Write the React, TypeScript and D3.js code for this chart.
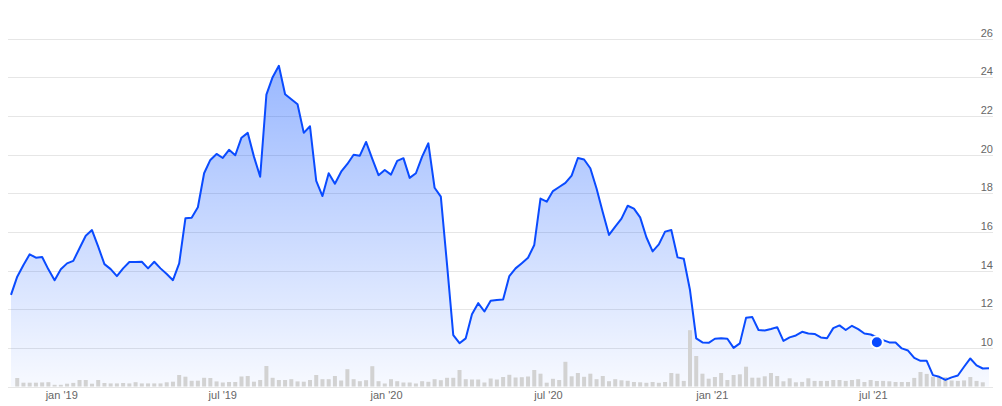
import React from "react";
import * as d3 from "d3";

// weekly closing prices, starting the week of 5 Nov 2018
const startDate = new Date(2018, 10, 5);
const prices: number[] = [
  12.74, 13.68, 14.28, 14.84, 14.66, 14.70, 14.06, 13.50, 14.06, 14.37,
  14.50, 15.15, 15.80, 16.09, 15.23, 14.33, 14.07, 13.71, 14.11, 14.44,
  14.44, 14.45, 14.11, 14.45, 14.11, 13.82, 13.50, 14.37, 16.70, 16.73,
  17.27, 19.03, 19.72, 20.03, 19.82, 20.24, 19.96, 20.87, 21.12, 19.89,
  18.85, 23.10, 24.00, 24.59, 23.12, 22.86, 22.60, 21.12, 21.46, 18.63,
  17.85, 19.03, 18.49, 19.11, 19.51, 19.99, 19.94, 20.65, 19.77, 18.93,
  19.20, 18.96, 19.67, 19.81, 18.79, 19.03, 19.89, 20.58, 18.28, 17.82,
  14.30, 10.66, 10.24, 10.49, 11.74, 12.31, 11.88, 12.43, 12.48, 12.50,
  13.71, 14.11, 14.38, 14.66, 15.32, 17.72, 17.56, 18.11, 18.32, 18.53,
  18.91, 19.82, 19.74, 19.29, 18.24, 17.01, 15.84, 16.27, 16.68, 17.35,
  17.20, 16.75, 15.72, 14.99, 15.35, 16.01, 16.09, 14.68, 14.61, 12.99,
  10.49, 10.28, 10.26, 10.47, 10.49, 10.47, 10.00, 10.23, 11.55, 11.59,
  10.92, 10.90, 10.97, 11.07, 10.36, 10.54, 10.64, 10.83, 10.74, 10.72,
  10.54, 10.50, 11.02, 11.16, 10.92, 11.14, 10.97, 10.74, 10.69, 10.55,
  10.40, 10.28, 10.28, 9.97, 9.86, 9.48, 9.33, 9.33, 8.59, 8.50,
  8.34, 8.47, 8.57, 9.02, 9.45, 9.09, 8.93, 8.95,
];

// weekly volume (millions of shares)
const volumes: number[] = [
  0.00, 0.85, 0.38, 0.38, 0.38, 0.41, 0.43, 0.17, 0.17, 0.28,
  0.36, 0.65, 0.65, 0.28, 0.65, 0.35, 0.31, 0.31, 0.35, 0.31,
  0.43, 0.31, 0.31, 0.31, 0.31, 0.42, 0.48, 1.15, 0.98, 0.57,
  0.58, 0.87, 0.85, 0.51, 0.40, 0.45, 0.45, 1.00, 1.05, 0.48,
  0.65, 2.05, 0.87, 0.65, 0.65, 0.73, 0.51, 0.48, 0.65, 1.15,
  0.73, 0.73, 1.05, 0.60, 1.73, 0.73, 0.53, 0.63, 2.03, 0.53,
  0.30, 0.73, 0.53, 0.40, 0.40, 0.30, 0.53, 0.47, 0.73, 0.63,
  0.87, 0.87, 1.65, 0.73, 0.70, 0.70, 0.40, 0.80, 0.70, 0.95,
  1.17, 0.90, 0.93, 1.00, 1.65, 1.28, 0.38, 0.77, 0.65, 2.47,
  1.02, 1.35, 0.97, 1.28, 0.73, 1.05, 0.53, 0.73, 0.62, 0.57,
  0.45, 0.42, 0.37, 0.45, 0.37, 0.45, 1.35, 1.28, 0.56, 5.63,
  3.05, 1.28, 0.78, 0.95, 1.35, 0.65, 1.15, 1.22, 1.98, 0.88,
  0.88, 1.02, 1.35, 1.05, 0.52, 0.82, 0.42, 0.46, 0.82, 0.56,
  0.56, 0.56, 0.65, 0.65, 0.56, 0.65, 0.73, 0.45, 0.65, 0.55,
  0.56, 0.52, 0.45, 0.45, 0.45, 0.86, 1.45, 1.26, 0.97, 0.98,
  0.93, 0.60, 0.56, 0.61, 0.95, 0.56, 0.42, 0.00,
];

// event marker
const markerDate = new Date(2021, 6, 5);
const markerValue = 10.29;

const yTicks: number[] = [10, 12, 14, 16, 18, 20, 22, 24, 26];
const yGrid: number[] = [8, 10, 12, 14, 16, 18, 20, 22, 24, 26];

const W = 1002;
const H = 406;
const BLUE = "#0a4bff";

export default function App() {
  const dates = prices.map((_, i) => d3.timeDay.offset(startDate, i * 7));
  const data = prices.map((p, i) => ({ date: dates[i], price: p, vol: volumes[i] }));

  const x = d3
    .scaleTime()
    .domain([dates[0], dates[dates.length - 1]])
    .range([11, 989]);
  const y = d3.scaleLinear().domain([8, 26]).range([386.5, 38.5]);
  const vScale = d3
    .scaleLinear()
    .domain([0, d3.max(volumes) as number])
    .range([0, 56.3]);

  const area = d3
    .area<any>()
    .x((d) => x(d.date))
    .y0(y(8))
    .y1((d) => y(d.price));
  const line = d3
    .line<any>()
    .x((d) => x(d.date))
    .y((d) => y(d.price));

  const xTicks = x.ticks(d3.timeMonth.every(6) as any);
  const fmt = d3.timeFormat("%b '%y");
  const topY = y(d3.max(prices) as number);
  const baseY = y(8);

  return (
    <svg
      width={W}
      height={H}
      style={{ position: "absolute", left: 0, top: 0, display: "block" }}
      fontFamily="'Liberation Sans', Arial, sans-serif"
    >
      <defs>
        <linearGradient
          id="areaGrad"
          gradientUnits="userSpaceOnUse"
          x1={0}
          y1={topY}
          x2={0}
          y2={baseY}
        >
          <stop offset="0" stopColor="rgb(0,76,255)" stopOpacity={0.4} />
          <stop offset="1" stopColor="rgb(0,76,255)" stopOpacity={0.03} />
        </linearGradient>
      </defs>
      <rect x={0} y={0} width={W} height={H} fill="#fff" />
      {yGrid.map((t) => (
        <line
          key={"g" + t}
          x1={8}
          x2={993}
          y1={Math.round(y(t)) + 0.5}
          y2={Math.round(y(t)) + 0.5}
          stroke="#e6e6e6"
          strokeWidth={1}
        />
      ))}
      <path d={area(data) as string} fill="url(#areaGrad)" />
      {data.map((d, i) =>
        d.vol > 0 ? (
          <rect
            key={"v" + i}
            x={x(d.date) - 2}
            y={baseY - vScale(d.vol)}
            width={4}
            height={vScale(d.vol)}
            fill="#d2d2d2"
          />
        ) : null
      )}
      <path d={line(data) as string} fill="none" stroke={BLUE} strokeWidth={2} strokeLinejoin="round" />
      <circle cx={x(markerDate)} cy={y(markerValue)} r={6} fill={BLUE} stroke="#fff" strokeWidth={2} />
      {yTicks.map((t) => (
        <text
          key={"t" + t}
          x={993}
          y={y(t) - 2}
          textAnchor="end"
          fontSize={11}
          fill="#666"
        >
          {t}
        </text>
      ))}
      {xTicks.map((d, i) => (
        <text
          key={"x" + i}
          x={x(d)}
          y={398.5}
          textAnchor="middle"
          fontSize={11}
          fill="#666"
        >
          {fmt(d).toLowerCase()}
        </text>
      ))}
    </svg>
  );
}
